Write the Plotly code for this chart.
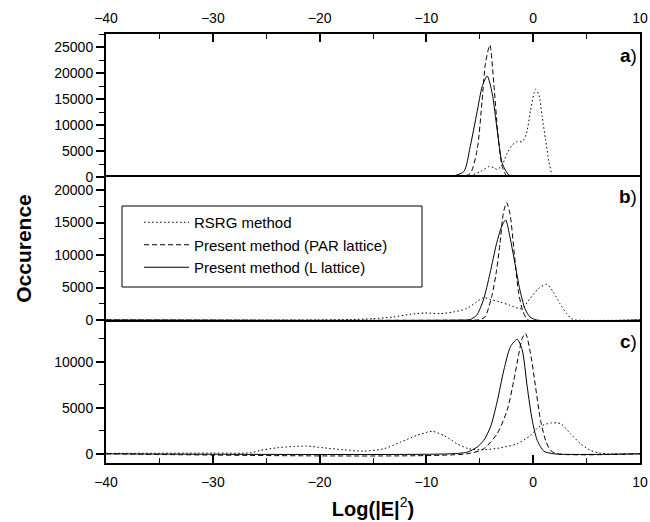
import plotly.graph_objects as go

# ---------------- data ----------------
# Panel a
a_L_x = [-40, -8, -7.75, -6.5, -5.9, -5.25, -4.78, -4.31, -3.84, -3.375, -2.9, -2.28, -1.5, 10]
a_L_y = [0, 0, 50, 1040, 5840, 12570, 17380, 19420, 16100, 9040, 2630, 400, 0, 0]
a_P_x = [-40, -6.8, -5.9, -5.25, -4.78, -4.47, -4.06, -3.69, -3.31, -2.9, -2.44, -2.0, 10]
a_P_y = [0, 0, 700, 5190, 14800, 21860, 25380, 18020, 8400, 2000, 100, 0, 0]
a_R_x = [-40, -8, -7.4, -6.5, -5.875, -4.94, -4.16, -3.69, -3.375, -2.91, -2.44, -1.97, -1.5,
         -1.03, -0.625, -0.25, 0.22, 0.53, 0.84, 1.16, 1.47, 1.78, 2.0, 10]
a_R_y = [0, 0, 150, 250, 300, 1040, 2000, 1800, 1450, 2310, 4560, 6150, 6800,
         6800, 8400, 12880, 16860, 15770, 11610, 7120, 2960, 380, 0, 0]

# Panel b
b_L_x = [-40, -6.2, -5.92, -5.3, -4.67, -4.05, -3.43, -2.96, -2.58, -2.18, -1.71, -1.24, -0.77, -0.30, 0.32, 10]
b_L_y = [0, 0, 50, 720, 3040, 7140, 11770, 14350, 15380, 12800, 8690, 4580, 1740, 460, 0, 0]
b_P_x = [-40, -5.3, -4.99, -4.52, -3.89, -3.43, -3.11, -2.8, -2.49, -2.18, -1.80, -1.40, -0.99, -0.46, 10]
b_P_y = [0, 0, 50, 460, 3550, 7660, 11770, 16400, 18050, 16400, 10750, 4580, 1490, 0, 0]
b_R_x = [-40, -20, -17, -15, -13.1, -11.54, -10.14, -8.73, -7.48, -6.24, -5.3, -4.67, -4.05, -3.11,
         -2.18, -1.08, -0.30, 0.48, 1.26, 1.88, 2.5, 3.13, 3.6, 4.06, 10]
b_R_y = [0, 0, 80, 200, 460, 870, 1080, 980, 1230, 1750, 2780, 3450, 3190, 2780,
         2260, 1750, 3290, 4830, 5500, 4320, 2520, 980, 200, 0, 0]

# Panel c
c_L_x = [-40, -7.75, -6.19, -5.25, -4.63, -4.0, -3.38, -2.75, -2.13, -1.5, -1.03, -0.56, -0.09, 0.38, 1.0, 1.94, 10]
c_L_y = [0, 0, 180, 730, 1460, 2910, 5640, 9100, 11650, 12450, 11300, 7280, 3640, 1460, 290, 0, 0]
c_P_x = [-40, -6.2, -4.63, -3.38, -2.44, -1.81, -1.34, -1.03, -0.72, -0.25, 0.22, 0.69, 1.16, 1.63, 2.25, 10]
c_P_y = [0, 0, 550, 2180, 4730, 8010, 10920, 12560, 13100, 10920, 7280, 3640, 1460, 360, 0, 0]
c_R_x = [-40, -30, -26.5, -25.6, -24.0, -22.4, -21.2, -19.6, -17.75, -15.9, -14.0, -12.4, -10.9, -9.47,
         -8.38, -7.13, -6.03, -4.63, -3.06, -1.5, -0.25, 0.53, 1.63, 2.56, 3.5, 4.44, 5.38, 6.16, 7, 10]
c_R_y = [50, 80, 100, 360, 650, 800, 840, 650, 440, 290, 550, 1270, 2000, 2440,
         2000, 1090, 550, 440, 650, 1090, 2000, 2910, 3350, 3280, 2180, 1090, 360, 100, 0, 0]

series_names = ["RSRG method", "Present method (PAR lattice)", "Present method (L lattice)"]
panel_labels = ["a", "b", "c"]
x_ticks = [-40, -30, -20, -10, 0, 10]

panels = [
    [(a_R_x, a_R_y), (a_P_x, a_P_y), (a_L_x, a_L_y)],
    [(b_R_x, b_R_y), (b_P_x, b_P_y), (b_L_x, b_L_y)],
    [(c_R_x, c_R_y), (c_P_x, c_P_y), (c_L_x, c_L_y)],
]
y_ranges = [[0, 27500], [0, 22000], [-1000, 14550]]

dashes = ["1.5px,2.5px", "5px,3px", "solid"]

FONT = "Liberation Sans, Arial, sans-serif"

# plot area geometry (pixels)
W, H = 650, 522
ML, MR, MT, MB = 106, 10, 34, 59
PW, PH = W - ML - MR, H - MT - MB


def px_x(px):
    return (px - ML) / PW


def px_y(py):
    return (H - MB - py) / PH


fig = go.Figure()
for p, traces in enumerate(panels):
    xa = "x" if p == 0 else f"x{p+1}"
    ya = "y" if p == 0 else f"y{p+1}"
    for s, (xs, ys) in enumerate(traces):
        fig.add_trace(go.Scatter(
            x=xs, y=ys, mode="lines", name=series_names[s],
            legendgroup=series_names[s], showlegend=(p == 0),
            line=dict(color="black", width=1, dash=dashes[s], shape="spline", smoothing=0.7),
            xaxis=xa, yaxis=ya,
        ))

line_style = dict(showline=True, linecolor="black", linewidth=2, showgrid=False, zeroline=False)

common_x = dict(range=[-40, 10], tickvals=x_ticks, ticklabeloverflow="allow", **line_style)
fig.update_layout(
    # top panel: only its top frame line (the separator comes from panel b)
    xaxis=dict(anchor="y", side="top", mirror=False, ticks="inside", ticklen=8, tickwidth=1.5,
               tickcolor="black",
               minor=dict(ticks="inside", ticklen=5, dtick=5, tick0=0, tickwidth=1, tickcolor="black"),
               ticklabelstandoff=3, **common_x),
    # middle panel: both separators
    xaxis2=dict(anchor="y2", matches="x", mirror=True, showticklabels=False, ticks="", **common_x),
    # bottom panel: bottom frame line with ticks
    xaxis3=dict(anchor="y3", matches="x", side="bottom", mirror=False, ticks="inside", ticklen=8,
                tickwidth=1.5, tickcolor="black",
                minor=dict(ticks="inside", ticklen=5, dtick=5, tick0=0, tickwidth=1, tickcolor="black"),
                ticklabelstandoff=5,
                title=dict(text="<b>Log(|E|</b><sup>2</sup><b>)</b>", font=dict(size=20), standoff=13),
                **common_x),
)
doms = [[2/3, 1], [1/3, 2/3], [0, 1/3]]
for p in range(3):
    key = "yaxis" if p == 0 else f"yaxis{p+1}"
    xa = "x" if p == 0 else f"x{p+1}"
    ydict = dict(anchor=xa, domain=doms[p], range=y_ranges[p], dtick=5000, tick0=0, tickformat="d",
                 ticks="outside", ticklen=8, tickwidth=1.5, tickcolor="black", mirror=True,
                 minor=dict(ticks="outside", ticklen=5, dtick=2500, tick0=0, tickwidth=1, tickcolor="black"),
                 **line_style)
    if p == 1:
        ydict["title"] = dict(text="<b>Occurence</b>", font=dict(size=21), standoff=17)
    fig.layout[key] = ydict

label_y = [px_y(55), px_y(196), px_y(341)]
for p in range(3):
    fig.add_annotation(text=f"<b>{panel_labels[p]}</b>)", xref="paper", yref="paper",
                       x=1, y=label_y[p], xanchor="right", yanchor="middle", xshift=-1,
                       showarrow=False, font=dict(size=19, color="black", family=FONT))

# legend frame
fig.add_shape(type="rect", xref="paper", yref="paper",
              x0=px_x(122), x1=px_x(422), y0=px_y(287), y1=px_y(206),
              line=dict(color="black", width=1), fillcolor="white", layer="below")

fig.update_layout(
    width=W, height=H,
    margin=dict(l=ML, r=MR, t=MT, b=MB, autoexpand=False),
    paper_bgcolor="white", plot_bgcolor="rgba(0,0,0,0)",
    font=dict(family=FONT, size=14, color="black"),
    showlegend=True,
    legend=dict(x=px_x(139), y=px_y(206), xanchor="left", yanchor="top",
                bgcolor="rgba(0,0,0,0)", borderwidth=0,
                font=dict(size=15, family=FONT), tracegroupgap=0, itemwidth=45),
)

fig.write_html("out.html", config={"displayModeBar": False},
               post_script="document.body.style.margin='0';document.body.style.padding='0';document.body.style.overflow='hidden';")
